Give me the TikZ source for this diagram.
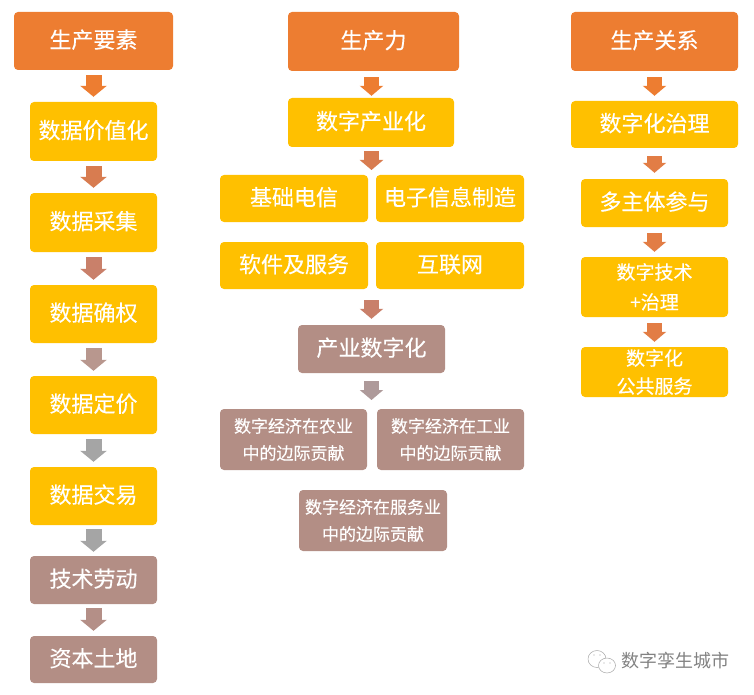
\documentclass[tikz,border=0pt]{standalone}
\usepackage{fontspec}
\setmainfont{Noto Sans CJK SC}[FakeBold=0.25]
\newfontfamily\markfont{Noto Sans CJK SC}
\usepackage{tikz}
\usetikzlibrary{arrows.meta,shapes.geometric}
\definecolor{node_orange}{RGB}{237,125,49}
\definecolor{node_yellow}{RGB}{255,192,0}
\definecolor{node_brown}{RGB}{179,142,133}
\definecolor{edge_a}{RGB}{237,125,49}
\definecolor{edge_b}{RGB}{216,124,80}
\definecolor{edge_c}{RGB}{201,128,106}
\definecolor{edge_d}{RGB}{184,151,142}
\definecolor{edge_e}{RGB}{165,165,165}
\definecolor{edge_f}{RGB}{180,143,135}
\definecolor{edge_g}{RGB}{174,154,154}
\definecolor{edge_h}{RGB}{226,125,69}
\definecolor{mark_gray}{RGB}{130,130,130}

\begin{document}
\begin{tikzpicture}[x=1pt,y=-1pt]
    \tikzstyle{box}=[rectangle, rounded corners=4pt, inner sep=0pt, text=white, align=center]
    \tikzstyle{big}=[style=box, font=\fontsize{22}{26}\selectfont, text height=19pt, text depth=5pt]
    \tikzstyle{head}=[style=big, fill=node_orange]
    \tikzstyle{yel}=[style=big, fill=node_yellow]
    \tikzstyle{brn}=[style=big, fill=node_brown]
    \tikzstyle{flow}=[line width=16pt, -{Triangle[length=11pt,width=26pt]}, shorten <=5pt, shorten >=5pt]
    \tikzstyle{thin}=[style=flow, line width=15pt, -{Triangle[length=10pt,width=23pt]}]

    \useasboundingbox (0,0) rectangle (754,695);

    % left column
    \node[head, minimum width=159pt, minimum height=58pt] (yaosu)  at (93.5,41)  {生产要素};
    \node[yel, minimum width=127pt, minimum height=59pt] (jiazhi)  at (93.5,131.5) {数据价值化};
    \node[yel, minimum width=127pt, minimum height=59pt] (caiji)   at (93.5,222.5) {数据采集};
    \node[yel, minimum width=127pt, minimum height=58pt] (quequan) at (93.5,314)  {数据确权};
    \node[yel, minimum width=127pt, minimum height=58pt] (dingjia) at (93.5,405)  {数据定价};
    \node[yel, minimum width=127pt, minimum height=58pt] (jiaoyi)  at (93.5,496)  {数据交易};
    \node[brn, minimum width=127pt, minimum height=48pt] (laodong) at (93.5,580)  {技术劳动};
    \node[brn, minimum width=127pt, minimum height=47pt] (tudi)    at (93.5,659.5) {资本土地};

    % middle column
    \node[head, minimum width=171pt, minimum height=59pt] (shengli) at (373.5,41.5) {生产力};
    \node[yel, minimum width=166pt, minimum height=49pt] (chanye)   at (371,122.5) {数字产业化};
    \node[yel, minimum width=148pt, minimum height=47pt] (jichu)    at (294,198.5) {基础电信};
    \node[yel, minimum width=148pt, minimum height=47pt] (dianzi)   at (450,198.5) {电子信息制造};
    \node[yel, minimum width=148pt, minimum height=47pt] (ruanjian) at (294,265.5) {软件及服务};
    \node[yel, minimum width=148pt, minimum height=47pt] (hulian)   at (450,265.5) {互联网};
    \node[brn, minimum width=147pt, minimum height=48pt] (shuzi)    at (371.5,349) {产业数字化};
    \tikzstyle{small}=[style=box, fill=node_brown, font=\fontsize{17}{27}\selectfont]
    \node[small, minimum width=147pt, minimum height=61pt] (nong) at (293.5,439.5) {数字经济在农业\\中的边际贡献};
    \node[small, minimum width=147pt, minimum height=61pt] (gong) at (450.5,439.5) {数字经济在工业\\中的边际贡献};
    \node[small, minimum width=148pt, minimum height=61pt] (fuwu) at (373,520.5)  {数字经济在服务业\\中的边际贡献};

    % right column
    \tikzstyle{mid}=[style=box, fill=node_yellow, font=\fontsize{19}{28}\selectfont]
    \node[head, minimum width=167pt, minimum height=59pt] (guanxi) at (654.5,41.5) {生产关系};
    \node[yel, minimum width=167pt, minimum height=47pt] (zhili)   at (654.5,124.5) {数字化治理};
    \node[yel, minimum width=147pt, minimum height=48pt] (zhuti)   at (654.5,203) {多主体参与};
    \node[mid, minimum width=147pt, minimum height=60pt] (jishu)   at (654.5,287) {数字技术\\[2pt]+治理};
    \node[mid, minimum width=147pt, minimum height=50pt] (gonggong) at (654.5,372) {数字化\\公共服务};

    % free ends over the two rows of the middle column
    \coordinate (rowa) at (371.5,175);
    \coordinate (rowb) at (371.5,289);
    \coordinate (rowc) at (371.5,409);

    \path
     (yaosu.south) edge[flow,edge_a] (jiazhi.north)
     (jiazhi.south) edge[flow,edge_b] (caiji.north)
     (caiji.south) edge[flow,edge_c] (quequan.north)
     (quequan.south) edge[flow,edge_d] (dingjia.north)
     (dingjia.south) edge[flow,edge_e] (jiaoyi.north)
     (jiaoyi.south) edge[flow,edge_e,shorten <=4pt,shorten >=4pt] (laodong.north)
     (laodong.south) edge[flow,edge_f,shorten <=4pt] (tudi.north)
     (shengli.south -| rowa) edge[thin,edge_a,shorten <=6pt,shorten >=2pt] (chanye.north -| rowa)
     (chanye.south -| rowa) edge[thin,edge_b,shorten <=4pt] (rowa)
     (rowb) edge[thin,edge_c,shorten <=11pt,shorten >=6pt] (shuzi.north -| rowb)
     (shuzi.south) edge[thin,edge_g,shorten <=8pt,shorten >=9pt] (rowc)
     (guanxi.south) edge[thin,edge_a,shorten <=6pt] (zhili.north)
     (zhili.south) edge[thin,edge_h,shorten <=8pt,shorten >=6pt] (zhuti.north)
     (zhuti.south) edge[thin,edge_h,shorten <=6pt] (jishu.north)
     (jishu.south) edge[thin,edge_h,shorten <=6pt] (gonggong.north)
     ;

    % mark in the corner
    \tikzstyle{bubble}=[ellipse, draw=mark_gray!70, line width=0.5pt, fill=white, inner sep=0pt]
    \tikzstyle{eye}=[circle, fill=mark_gray!70, minimum size=1.2pt, inner sep=0pt]
    \node[bubble, minimum width=18pt, minimum height=17pt] (wxa) at (597,659) {};
    \node[bubble, minimum width=17pt, minimum height=15pt] (wxb) at (607,665.5) {};
    \node[eye] (wxc) at (594,655) {};
    \node[eye] (wxd) at (600,655) {};
    \node[eye] (wxe) at (604,663) {};
    \node[eye] (wxf) at (610,663) {};
    \node[anchor=west, inner sep=0pt, text=mark_gray, font=\markfont\fontsize{18}{22}\selectfont] (mark) at (621,661) {数字孪生城市};
\end{tikzpicture}
\end{document}
